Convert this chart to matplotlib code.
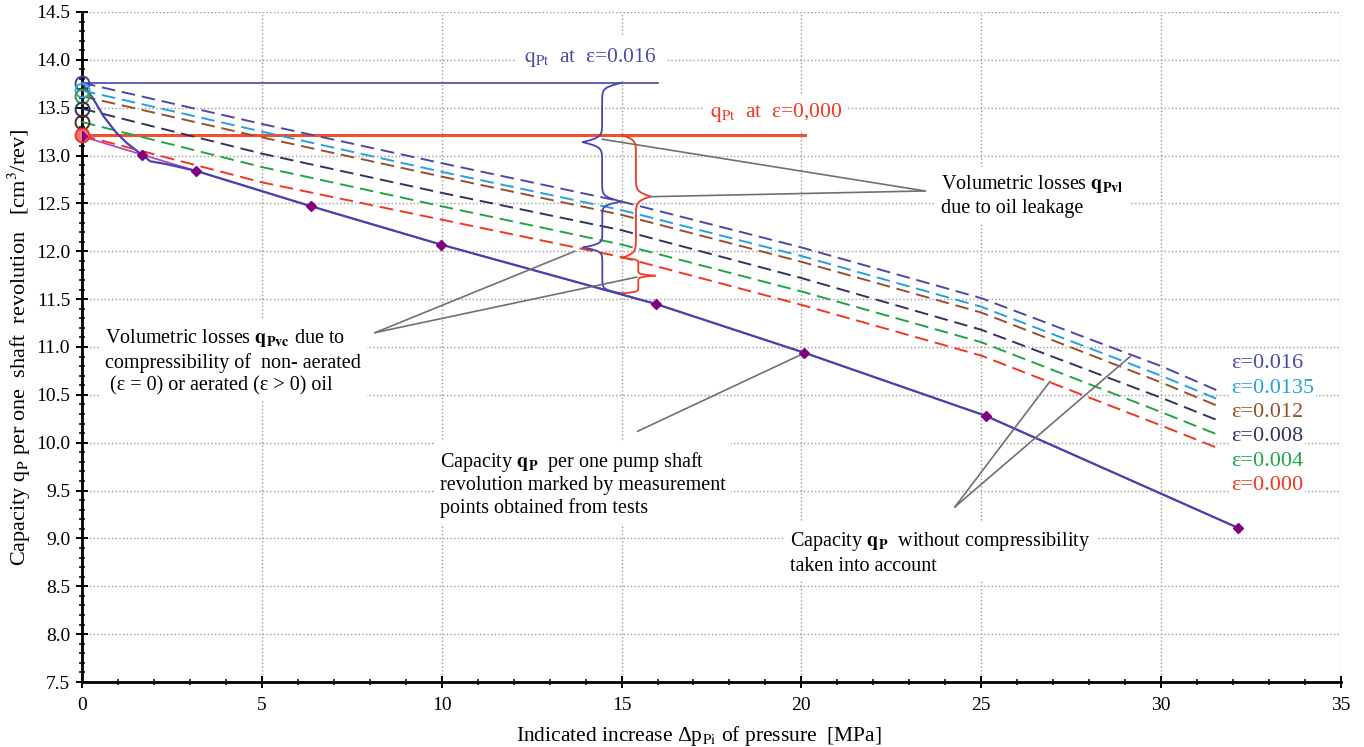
"""Pump capacity q_P versus indicated pressure increase, with aeration curves."""

import numpy as np
import matplotlib.pyplot as plt
from matplotlib.ticker import MultipleLocator, FormatStrFormatter

plt.rcParams["font.family"] = ["Liberation Serif", "DejaVu Serif"]
plt.rcParams["mathtext.fontset"] = "stix"

# measured capacity per shaft revolution (test points)
meas_p = [0.0, 1.66, 3.17, 6.37, 9.98, 15.95, 20.08, 25.13, 32.14]
meas_q = [13.20, 13.01, 12.84, 12.47, 12.07, 11.45, 10.94, 10.28, 9.11]

# smoothed curve drawn from q_Pt (eps=0.016) through the test points
fit_p = [0.0, 0.3, 0.6, 0.95, 1.25, 1.66, 1.9, 2.35, 3.17, 6.37, 9.98,
         15.95, 20.08, 25.13, 32.14]
fit_q = [13.76, 13.60, 13.41, 13.24, 13.13, 13.01, 12.94, 12.91, 12.84,
         12.47, 12.07, 11.45, 10.94, 10.28, 9.11]

# capacity without compressibility for each aeration level
curve_p = [0, 5, 10, 15, 20, 25, 30, 31.6]
q_eps0160 = [13.76, 13.33, 12.92, 12.52, 12.04, 11.51, 10.80, 10.54]
q_eps0135 = [13.68, 13.25, 12.83, 12.43, 11.95, 11.42, 10.70, 10.45]
q_eps0120 = [13.62, 13.19, 12.78, 12.38, 11.89, 11.36, 10.63, 10.38]
q_eps0080 = [13.49, 13.02, 12.61, 12.22, 11.72, 11.18, 10.47, 10.23]
q_eps0040 = [13.35, 12.88, 12.47, 12.07, 11.58, 11.05, 10.32, 10.08]
q_eps0000 = [13.21, 12.72, 12.33, 11.94, 11.44, 10.91, 10.18, 9.94]
eps_labels = ["ε=0.016", "ε=0.0135", "ε=0.012", "ε=0.008", "ε=0.004", "ε=0.000"]
eps_colors = ["#4a4aa6", "#22a2e2", "#9a4f2c", "#37315f", "#22a443", "#f2361f"]

# start markers at zero pressure (colours as in the original)
start_q = [13.76, 13.68, 13.62, 13.49, 13.35, 13.21]
start_colors = ["#4040a0", "#30a8e0", "#30a040", "#303060", "#4a3020", "#f03030"]

# theoretical capacity q_Pt
qpt_016, qpt_016_end = 13.76, 16.0
qpt_000, qpt_000_end = 13.215, 20.1


def brace(ax, x, y_a, y_b, x_tip, color):
    """Curly brace between (x, y_a) and (x, y_b) with its tip at x_tip."""
    s = np.linspace(0, 1, 80)
    f = 0.5 * np.tanh(12 * s) + 0.5 * (1 + np.tanh(12 * (s - 1)))
    f = (f - f[0]) / (f[-1] - f[0])
    y_mid = (y_a + y_b) / 2
    for y_end in (y_a, y_b):
        ax.plot(x + (x_tip - x) * f, y_end + (y_mid - y_end) * s,
                color=color, lw=1.3, solid_capstyle="round", zorder=4)


def main() -> None:
    fig = plt.figure(figsize=(13.64, 7.47), dpi=100)
    ax = fig.add_axes([0.0601, 0.087, 0.9230, 0.897])

    ax.set_xlim(0, 35)
    ax.set_ylim(7.5, 14.5)

    # theoretical capacity lines
    ax.plot([0, qpt_016_end], [qpt_016, qpt_016], color="#4848aa", lw=1.2, zorder=3)
    ax.plot([0, qpt_000_end], [qpt_000, qpt_000], color="#f0502c", lw=2.2, zorder=3)

    # curves without compressibility
    series = [q_eps0160, q_eps0135, q_eps0120, q_eps0080, q_eps0040, q_eps0000]
    for q, col in zip(series, eps_colors):
        ax.plot(curve_p, q, color=col, lw=1.4, dashes=(7, 3.5), zorder=3)

    # measured points and fitted curve
    ax.plot(meas_p, meas_q, color="#b040c0", lw=1.2, zorder=4)
    ax.plot(fit_p, fit_q, color="#4545b0", lw=1.6, zorder=5)
    ax.plot(meas_p, meas_q, ls="none", marker="D", ms=5, color="#800080", zorder=7)

    for q, col in zip(start_q, start_colors):
        face = "#f47a7a" if col == "#f03030" else "none"
        ax.plot([0], [q], ls="none", marker="o", ms=10, mfc=face, mec=col,
                mew=1.4, zorder=6, clip_on=False)

    # braces
    brace(ax, 15.0, 13.76, 12.52, 13.92, "#4545b0")
    brace(ax, 15.0, 12.52, 11.56, 13.93, "#4545b0")
    brace(ax, 15.0, 13.215, 11.93, 15.80, "#f03a25")
    brace(ax, 15.0, 11.93, 11.56, 15.93, "#f03a25")

    # leader lines
    grey = "#707070"
    leaders = [
        ((23.44, 12.63), (14.47, 13.17)),
        ((23.44, 12.63), (15.79, 12.57)),
        ((8.15, 11.15), (13.70, 12.00)),
        ((8.15, 11.15), (15.42, 11.73)),
        ((15.45, 10.12), (19.99, 10.92)),
        ((24.27, 9.33), (26.91, 10.64)),
        ((24.27, 9.33), (29.14, 10.90)),
    ]
    for (x0, y0), (x1, y1) in leaders:
        ax.plot([x0, x1], [y0, y1], color=grey, lw=1.2, zorder=5)

    # annotations
    wbox = dict(facecolor="white", edgecolor="none", pad=4)
    ax.text(12.3, 14.02, r"$\mathrm{q_{Pt}}$  at  ε=0.016", color="#4a4aa6",
            fontsize=15.5, va="center", bbox=dict(facecolor="white", edgecolor="none", pad=7), zorder=6)
    ax.text(17.46, 13.445, r"$\mathrm{q_{Pt}}$  at  ε=0,000", color="#f2361f",
            fontsize=15.5, va="center", bbox=wbox, zorder=6)
    ax.text(23.88, 12.58, "Volumetric losses " + r"$\mathbf{q_{Pvl}}$" + "\ndue to oil leakage",
            fontsize=14.5, va="center", linespacing=1.25, bbox=wbox, zorder=6)
    ax.text(0.64, 10.85,
            "Volumetric losses " + r"$\mathbf{q_{Pvc}}$" + " due to\n"
            "compressibility of  non- aerated\n (ε = 0) or aerated (ε > 0) oil",
            fontsize=14.5, va="center", linespacing=1.25, bbox=wbox, zorder=6)
    ax.text(9.95, 9.57,
            "Capacity " + r"$\mathbf{q_{P}}$" + "  per one pump shaft\n"
            "revolution marked by measurement\npoints obtained from tests",
            fontsize=14.5, va="center", linespacing=1.2, bbox=wbox, zorder=6)
    ax.text(19.68, 8.85,
            "Capacity " + r"$\mathbf{q_{P}}$" + "  without compressibility\ntaken into account",
            fontsize=14.5, va="center", linespacing=1.25, bbox=wbox, zorder=6)

    label_y = [10.83, 10.57, 10.32, 10.06, 9.80, 9.55]
    for lab, col, y in zip(eps_labels, eps_colors, label_y):
        ax.text(31.95, y, lab, color=col, fontsize=16, va="center",
                bbox=dict(facecolor="white", edgecolor="none", pad=1.5), zorder=6)

    # axes styling
    ax.xaxis.set_major_locator(MultipleLocator(5))
    ax.xaxis.set_minor_locator(MultipleLocator(1))
    ax.yaxis.set_major_locator(MultipleLocator(0.5))
    ax.yaxis.set_minor_locator(MultipleLocator(0.1))
    ax.yaxis.set_major_formatter(FormatStrFormatter("%.1f"))
    ax.tick_params(which="major", direction="inout", length=9, width=1.4, labelsize=14, pad=4)
    ax.tick_params(which="minor", direction="inout", length=5, width=1.1)
    ax.tick_params(axis="x", which="major", pad=6)
    for side in ("top", "right"):
        ax.spines[side].set_visible(False)
    for side in ("left", "bottom"):
        ax.spines[side].set_linewidth(2)
    ax.grid(True, which="major", ls=":", color="#9a9a9a", lw=1)
    ax.set_axisbelow(True)

    ax.set_xlabel(r"Indicated increase Δp$_\mathrm{Pi}$ of pressure  [MPa]", fontsize=15.5)
    ax.xaxis.set_label_coords(0.49, -0.062)
    ax.set_ylabel(r"Capacity q$_\mathrm{P}$ per one  shaft  revolution   [cm$^3$/rev]", fontsize=16)
    ax.yaxis.set_label_coords(-0.039, 0.5)

    fig.savefig("out.png", dpi=100)


if __name__ == "__main__":
    main()
